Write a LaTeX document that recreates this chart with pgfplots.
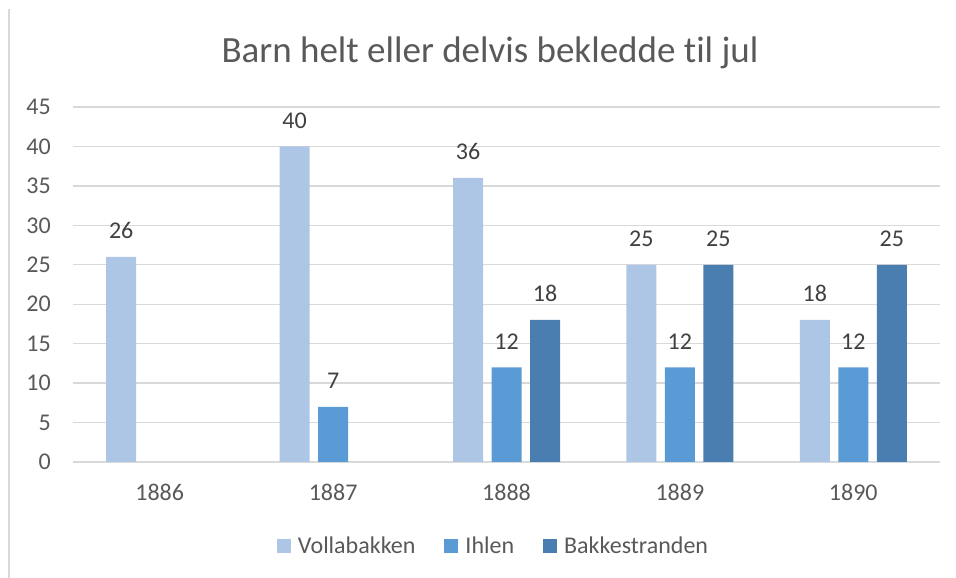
\documentclass[border=0pt]{standalone}
\usepackage{fontspec}
\setmainfont[Ligatures=NoCommon]{Carlito}
\usepackage{pgfplots}
\pgfplotsset{compat=1.18}
\definecolor{c1}{HTML}{ADC6E6}
\definecolor{c2}{HTML}{5B9BD5}
\definecolor{c3}{HTML}{4A7EB0}
\definecolor{txt}{HTML}{595959}
\definecolor{lbl}{HTML}{404040}
\definecolor{gridc}{HTML}{D9D9D9}
\begin{document}
\begin{tikzpicture}[x=1pt,y=1pt]
\useasboundingbox (0,0) rectangle (956,578);
\draw[gridc, line width=1.5pt] (9,0) -- (9,569);
\node[text=txt, font=\fontsize{37}{44}\selectfont, inner sep=0pt] at (490,525) {Barn helt eller delvis bekledde til jul};
\begin{axis}[
  at={(73pt,116pt)}, anchor=south west,
  scale only axis, width=867pt, height=355pt,
  xmin=-0.5, xmax=4.5, ymin=0, ymax=45,
  ytick={0,5,...,45},
  xtick={0,1,2,3,4},
  xticklabels={1886,1887,1888,1889,1890},
  axis line style={draw=none},
  major tick length=0pt,
  ymajorgrids,
  grid style={gridc, line width=1.3pt},
  tick label style={font=\fontsize{24}{29}\selectfont, text=txt, inner sep=0pt},
  /pgf/number format/assume math mode=true,
  yticklabel style={anchor=east, xshift=-22pt},
  xticklabel style={anchor=north, yshift=-22pt},
  nodes near coords,
  every node near coord/.append style={font=\fontsize{24}{29}\selectfont, text=lbl, inner sep=0pt, anchor=south, yshift=18pt},
  legend style={at={(0.485,-0.2366)}, anchor=center, draw=none, fill=none,
    legend columns=3, font=\fontsize{24}{29}\selectfont, text=txt,
    /tikz/every even column/.append style={column sep=27pt},
    /tikz/every odd column/.append style={column sep=5pt},
    legend cell align=left, inner sep=0pt},
  legend image code/.code={\fill[#1] (0pt,-7pt) rectangle (14pt,7pt);},
  clip=false,
]
\addplot[ybar, bar width=30pt, bar shift=-38.5pt, fill=c1, draw=none,
  every node near coord/.append style={xshift=-38.5pt}] coordinates {(0,26) (1,40) (2,36) (3,25) (4,18)};
\addplot[ybar, bar width=30pt, bar shift=0pt, fill=c2, draw=none] coordinates {(1,7) (2,12) (3,12) (4,12)};
\addplot[ybar, bar width=30pt, bar shift=38.5pt, fill=c3, draw=none,
  every node near coord/.append style={xshift=38.5pt}] coordinates {(2,18) (3,25) (4,25)};
\legend{Vollabakken, Ihlen, Bakkestranden}
\end{axis}
\end{tikzpicture}
\end{document}
